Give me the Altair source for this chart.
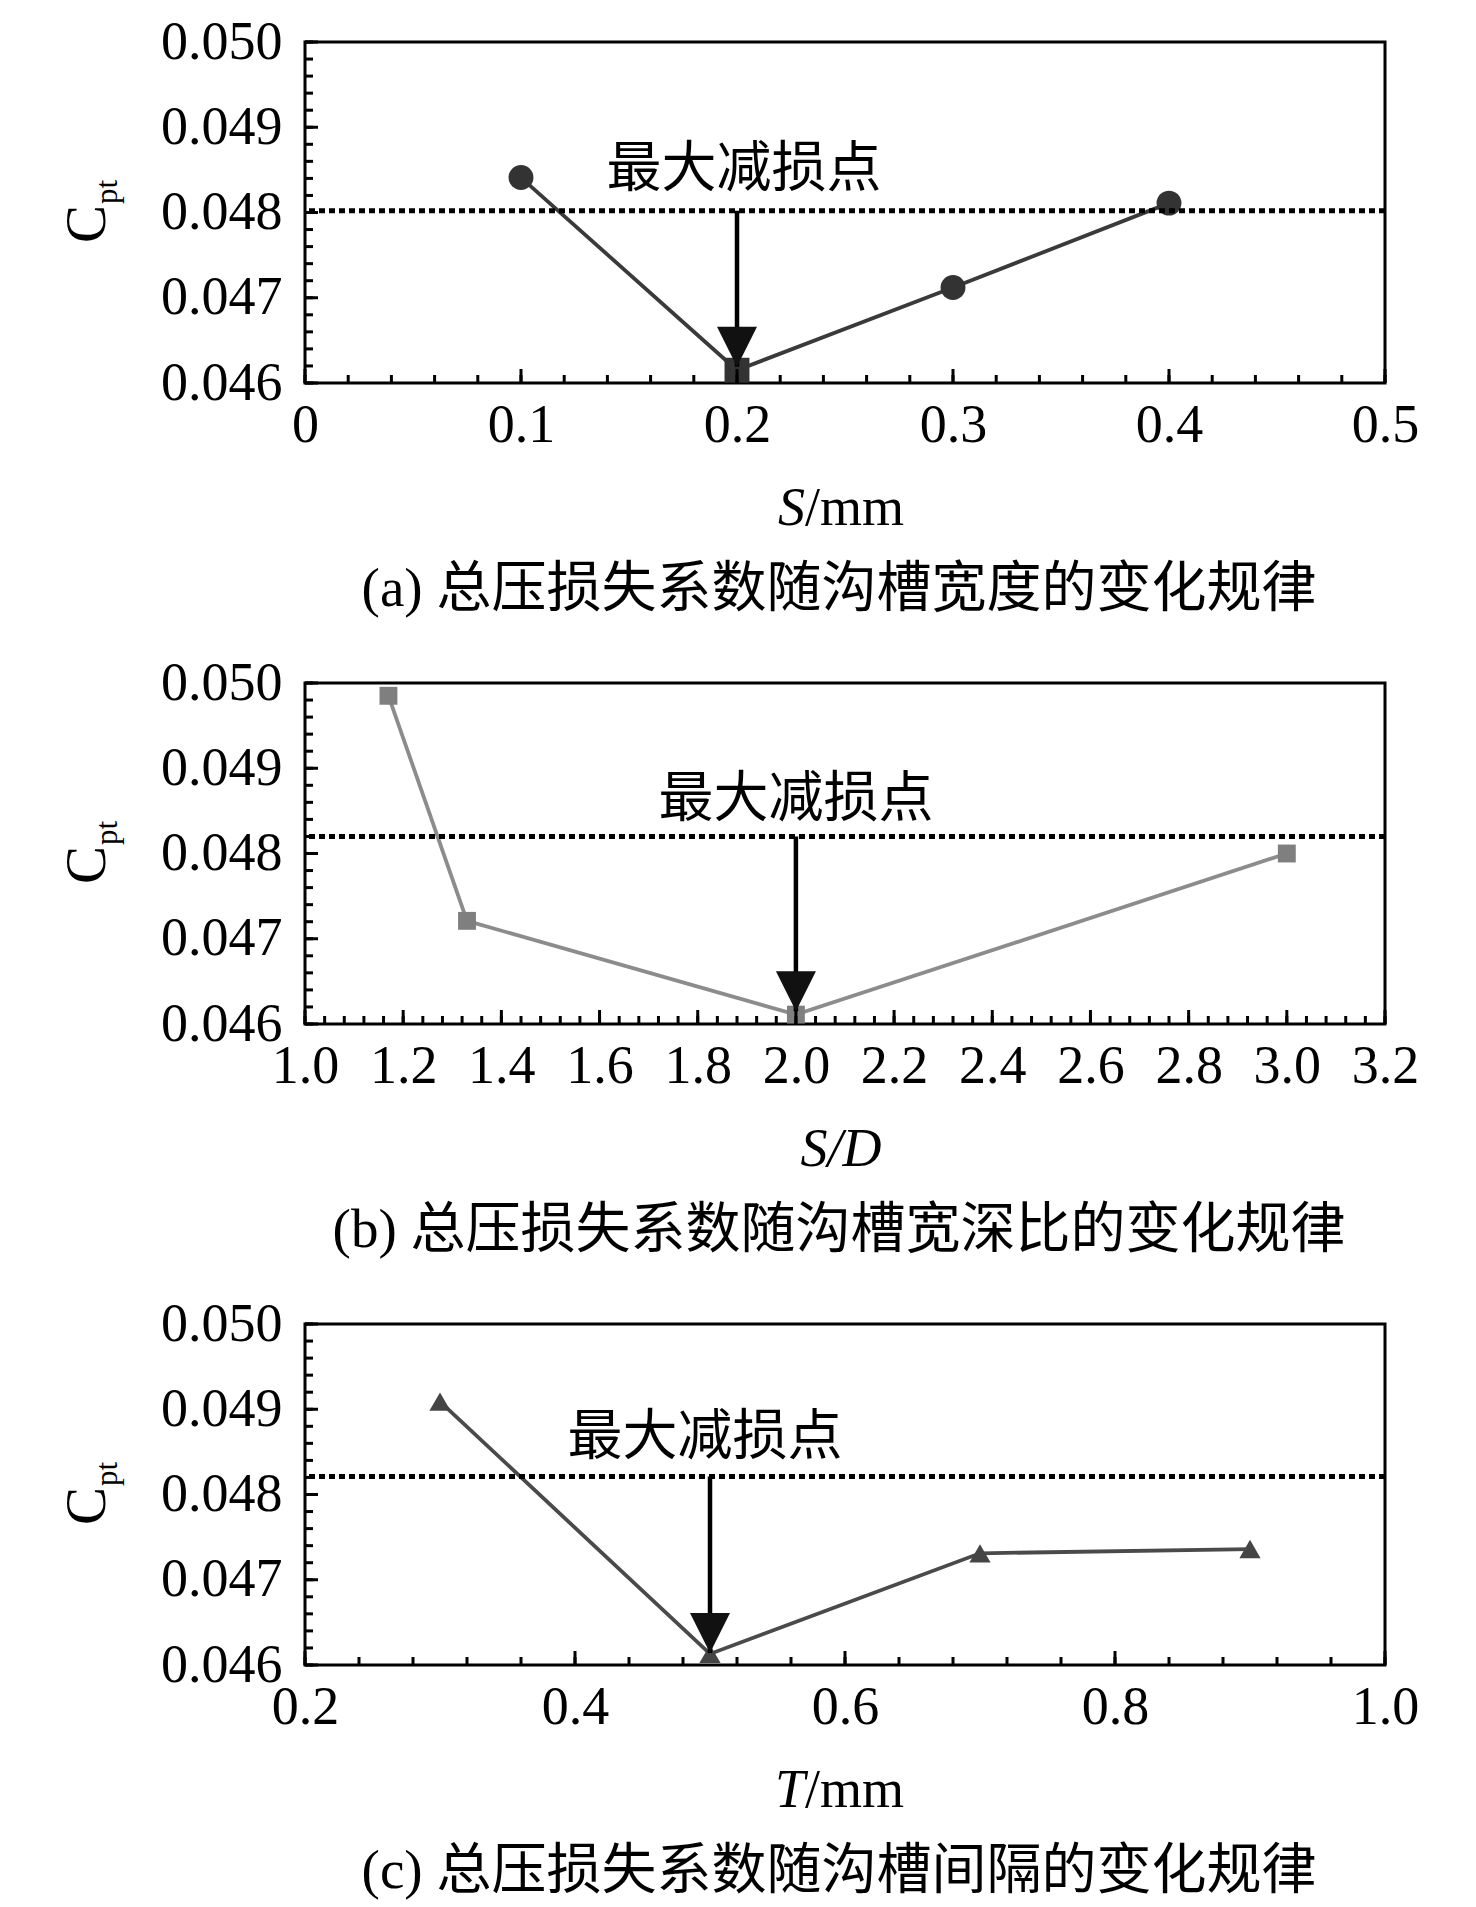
import altair as alt
import pandas as pd

SERIF = "Liberation Serif"
CJK = "Noto Sans CJK SC"
MIXED = "Liberation Serif, Noto Sans CJK SC"
W, H = 1080, 341

# ---------------- data ----------------
Y_DOMAIN = [0.046, 0.050]
Y_MAJOR = [0.046, 0.047, 0.048, 0.049, 0.050]
Y_MINOR_STEP = 0.0002

# (a) groove width
a_x = [0.1, 0.2, 0.3, 0.4]
a_y = [0.04841, 0.04615, 0.04712, 0.04811]
a_shape = ["circle", "square", "circle", "circle"]
a_ref = 0.04802
a_arrow = (0.2, 0.04619)
a_note = (0.2032, 0.04831)
a_xdomain = [0, 0.5]
a_xticks = [0, 0.1, 0.2, 0.3, 0.4, 0.5]
a_xminor_step = 0.02

# (b) width/depth ratio
b_x = [1.17, 1.33, 2.0, 3.0]
b_y = [0.04985, 0.04721, 0.04611, 0.04800]
b_shape = ["square", "square", "square", "square"]
b_ref = 0.04820
b_arrow = (2.0, 0.04615)
b_note = (2.0, 0.04844)
b_xdomain = [1.0, 3.2]
b_xticks = [1.0, 1.2, 1.4, 1.6, 1.8, 2.0, 2.2, 2.4, 2.6, 2.8, 3.0, 3.2]
b_xminor_step = 0.04

# (c) groove spacing
c_x = [0.3, 0.5, 0.7, 0.9]
c_y = [0.04909, 0.04613, 0.04731, 0.04736]
c_shape = ["triangle-up", "triangle-up", "triangle-up", "triangle-up"]
c_ref = 0.04821
c_arrow = (0.5, 0.04614)
c_note = (0.4963, 0.04848)
c_xdomain = [0.2, 1.0]
c_xticks = [0.2, 0.4, 0.6, 0.8, 1.0]
c_xminor_step = 0.04

NOTE_TEXT = "最大减损点"
Y_TITLE = ["C", "pt"]
a_xtitle = [("S", "italic"), ("/mm", "normal")]
b_xtitle = [("S/D", "italic")]
c_xtitle = [("T", "italic"), ("/mm", "normal")]
a_caption = "(a) 总压损失系数随沟槽宽度的变化规律"
b_caption = "(b) 总压损失系数随沟槽宽深比的变化规律"
c_caption = "(c) 总压损失系数随沟槽间隔的变化规律"


def steps(lo, hi, step):
    n = int(round((hi - lo) / step))
    return [round(lo + i * step, 6) for i in range(n + 1)]


def panel(xs, ys, shapes, ref, arrow, note, xdom, xticks, xminor, xfmt,
          line_color, pt_color, pt_size, xtitle, caption):
    xsc = alt.Scale(domain=xdom, nice=False, zero=False)
    ysc = alt.Scale(domain=Y_DOMAIN, nice=False, zero=False)
    df = pd.DataFrame({"x": xs, "y": ys, "shape": shapes})

    xaxis = alt.Axis(values=xticks, format=xfmt, ticks=False, tickSize=0, domain=False,
                     grid=False, labelFont=SERIF, labelFontSize=54, labelColor="black",
                     labelPadding=15, labelFlush=False, labelOverlap=False, title=None)
    yaxis = alt.Axis(values=Y_MAJOR, format=".3f", ticks=False, tickSize=0, domain=False,
                     grid=False, labelFont=SERIF, labelFontSize=54, labelColor="black",
                     labelPadding=23, labelFlush=False, labelOverlap=False, title=None)

    X = lambda f="x:Q": alt.X(f, scale=xsc, axis=xaxis, title=None)
    Y = lambda f="y:Q": alt.Y(f, scale=ysc, axis=yaxis, title=None)

    line = alt.Chart(df).mark_line(color=line_color, strokeWidth=3.8).encode(x=X(), y=Y())
    pts = alt.Chart(df).mark_point(filled=True, opacity=1, color=pt_color, size=pt_size).encode(
        x=X(), y=Y(), shape=alt.Shape("shape:N", scale=None, legend=None))

    refdf = pd.DataFrame({"y": [ref]})
    dotted = alt.Chart(refdf).mark_rule(color="black", strokeWidth=5, strokeDash=[6, 4]).encode(y=Y())

    adf = pd.DataFrame({"x": [arrow[0]], "y": [ref], "y2": [arrow[1]], "tip": [arrow[1]]})
    shaft = alt.Chart(adf).mark_rule(color="black", strokeWidth=4.5).encode(
        x=X(), y=Y(), y2=alt.Y2("y2:Q"))
    head = alt.Chart(adf).mark_point(shape="M-1,-1L1,-1L0,1Z", filled=True, opacity=1,
                                     color="#111111", size=1600, yOffset=-20).encode(
        x=X(), y=Y("tip:Q"))

    ndf = pd.DataFrame({"x": [note[0]], "y": [note[1]], "t": [NOTE_TEXT]})
    notes = alt.Chart(ndf).mark_text(font=CJK, fontSize=55, align="center",
                                     baseline="alphabetic", color="black").encode(
        x=X(), y=Y(), text="t:N")

    # inward ticks
    ymaj = pd.DataFrame({"y": Y_MAJOR})
    ymin = pd.DataFrame({"y": steps(Y_DOMAIN[0], Y_DOMAIN[1], Y_MINOR_STEP)})
    xmaj = pd.DataFrame({"x": xticks})
    xmin = pd.DataFrame({"x": steps(xdom[0], xdom[1], xminor)})
    yt1 = alt.Chart(ymaj).mark_rule(color="black", strokeWidth=3).encode(
        y=Y(), x=alt.value(0), x2=alt.value(13))
    yt2 = alt.Chart(ymin).mark_rule(color="black", strokeWidth=3).encode(
        y=Y(), x=alt.value(0), x2=alt.value(8))
    xt1 = alt.Chart(xmaj).mark_rule(color="black", strokeWidth=3).encode(
        x=X(), y=alt.value(H), y2=alt.value(H - 14))
    xt2 = alt.Chart(xmin).mark_rule(color="black", strokeWidth=3).encode(
        x=X(), y=alt.value(H), y2=alt.value(H - 8))

    # y title C_pt
    ydf = pd.DataFrame({"t": [Y_TITLE[0]]})
    ydf2 = pd.DataFrame({"t": [Y_TITLE[1]]})
    yc = alt.Chart(ydf).mark_text(font=SERIF, fontSize=57, angle=270, align="center",
                                  baseline="alphabetic", color="black").encode(
        text="t:N", x=alt.value(-200), y=alt.value(182))
    ypt = alt.Chart(ydf2).mark_text(font=SERIF, fontSize=31, angle=270, align="center",
                                    baseline="alphabetic", color="black").encode(
        text="t:N", x=alt.value(-188), y=alt.value(150))

    # x title (mixed italic)
    layers_t = []
    if len(xtitle) == 1:
        tdf = pd.DataFrame({"t": [xtitle[0][0]]})
        layers_t.append(alt.Chart(tdf).mark_text(font=SERIF, fontSize=54, fontStyle=xtitle[0][1],
                                                 align="center", baseline="alphabetic",
                                                 color="black").encode(
            text="t:N", x=alt.value(536), y=alt.value(H + 142)))
    else:
        split = 500
        t1 = pd.DataFrame({"t": [xtitle[0][0]]})
        t2 = pd.DataFrame({"t": [xtitle[1][0]]})
        layers_t.append(alt.Chart(t1).mark_text(font=SERIF, fontSize=54, fontStyle=xtitle[0][1],
                                                align="right", baseline="alphabetic",
                                                color="black").encode(
            text="t:N", x=alt.value(split), y=alt.value(H + 142)))
        layers_t.append(alt.Chart(t2).mark_text(font=SERIF, fontSize=54, fontStyle=xtitle[1][1],
                                                align="left", baseline="alphabetic",
                                                color="black").encode(
            text="t:N", x=alt.value(split), y=alt.value(H + 142)))

    cdf = pd.DataFrame({"t": [caption]})
    cap = alt.Chart(cdf).mark_text(font=MIXED, fontSize=55, align="center",
                                   baseline="alphabetic", color="black").encode(
        text="t:N", x=alt.value(534), y=alt.value(H + 223))

    return alt.layer(line, pts, dotted, shaft, head, notes, yt1, yt2, xt1, xt2,
                     yc, ypt, *layers_t, cap).properties(width=W, height=H)


pa = panel(a_x, a_y, a_shape, a_ref, a_arrow, a_note, a_xdomain, a_xticks, a_xminor_step, "~g",
           "#3a3a3a", "#333333", 620, a_xtitle, a_caption)
pb = panel(b_x, b_y, b_shape, b_ref, b_arrow, b_note, b_xdomain, b_xticks, b_xminor_step, ".1f",
           "#8c8c8c", "#7f7f7f", 320, b_xtitle, b_caption)
pc = panel(c_x, c_y, c_shape, c_ref, c_arrow, c_note, c_xdomain, c_xticks, c_xminor_step, ".1f",
           "#4a4a4a", "#454545", 450, c_xtitle, c_caption)

chart = alt.vconcat(pa, pb, pc, spacing=300, bounds="flush").properties(
    padding={"left": 49, "top": 5, "right": 0, "bottom": 0}
).configure_view(stroke="black", strokeWidth=3)

chart.save("out.html", embed_options={"renderer": "svg", "actions": False})
